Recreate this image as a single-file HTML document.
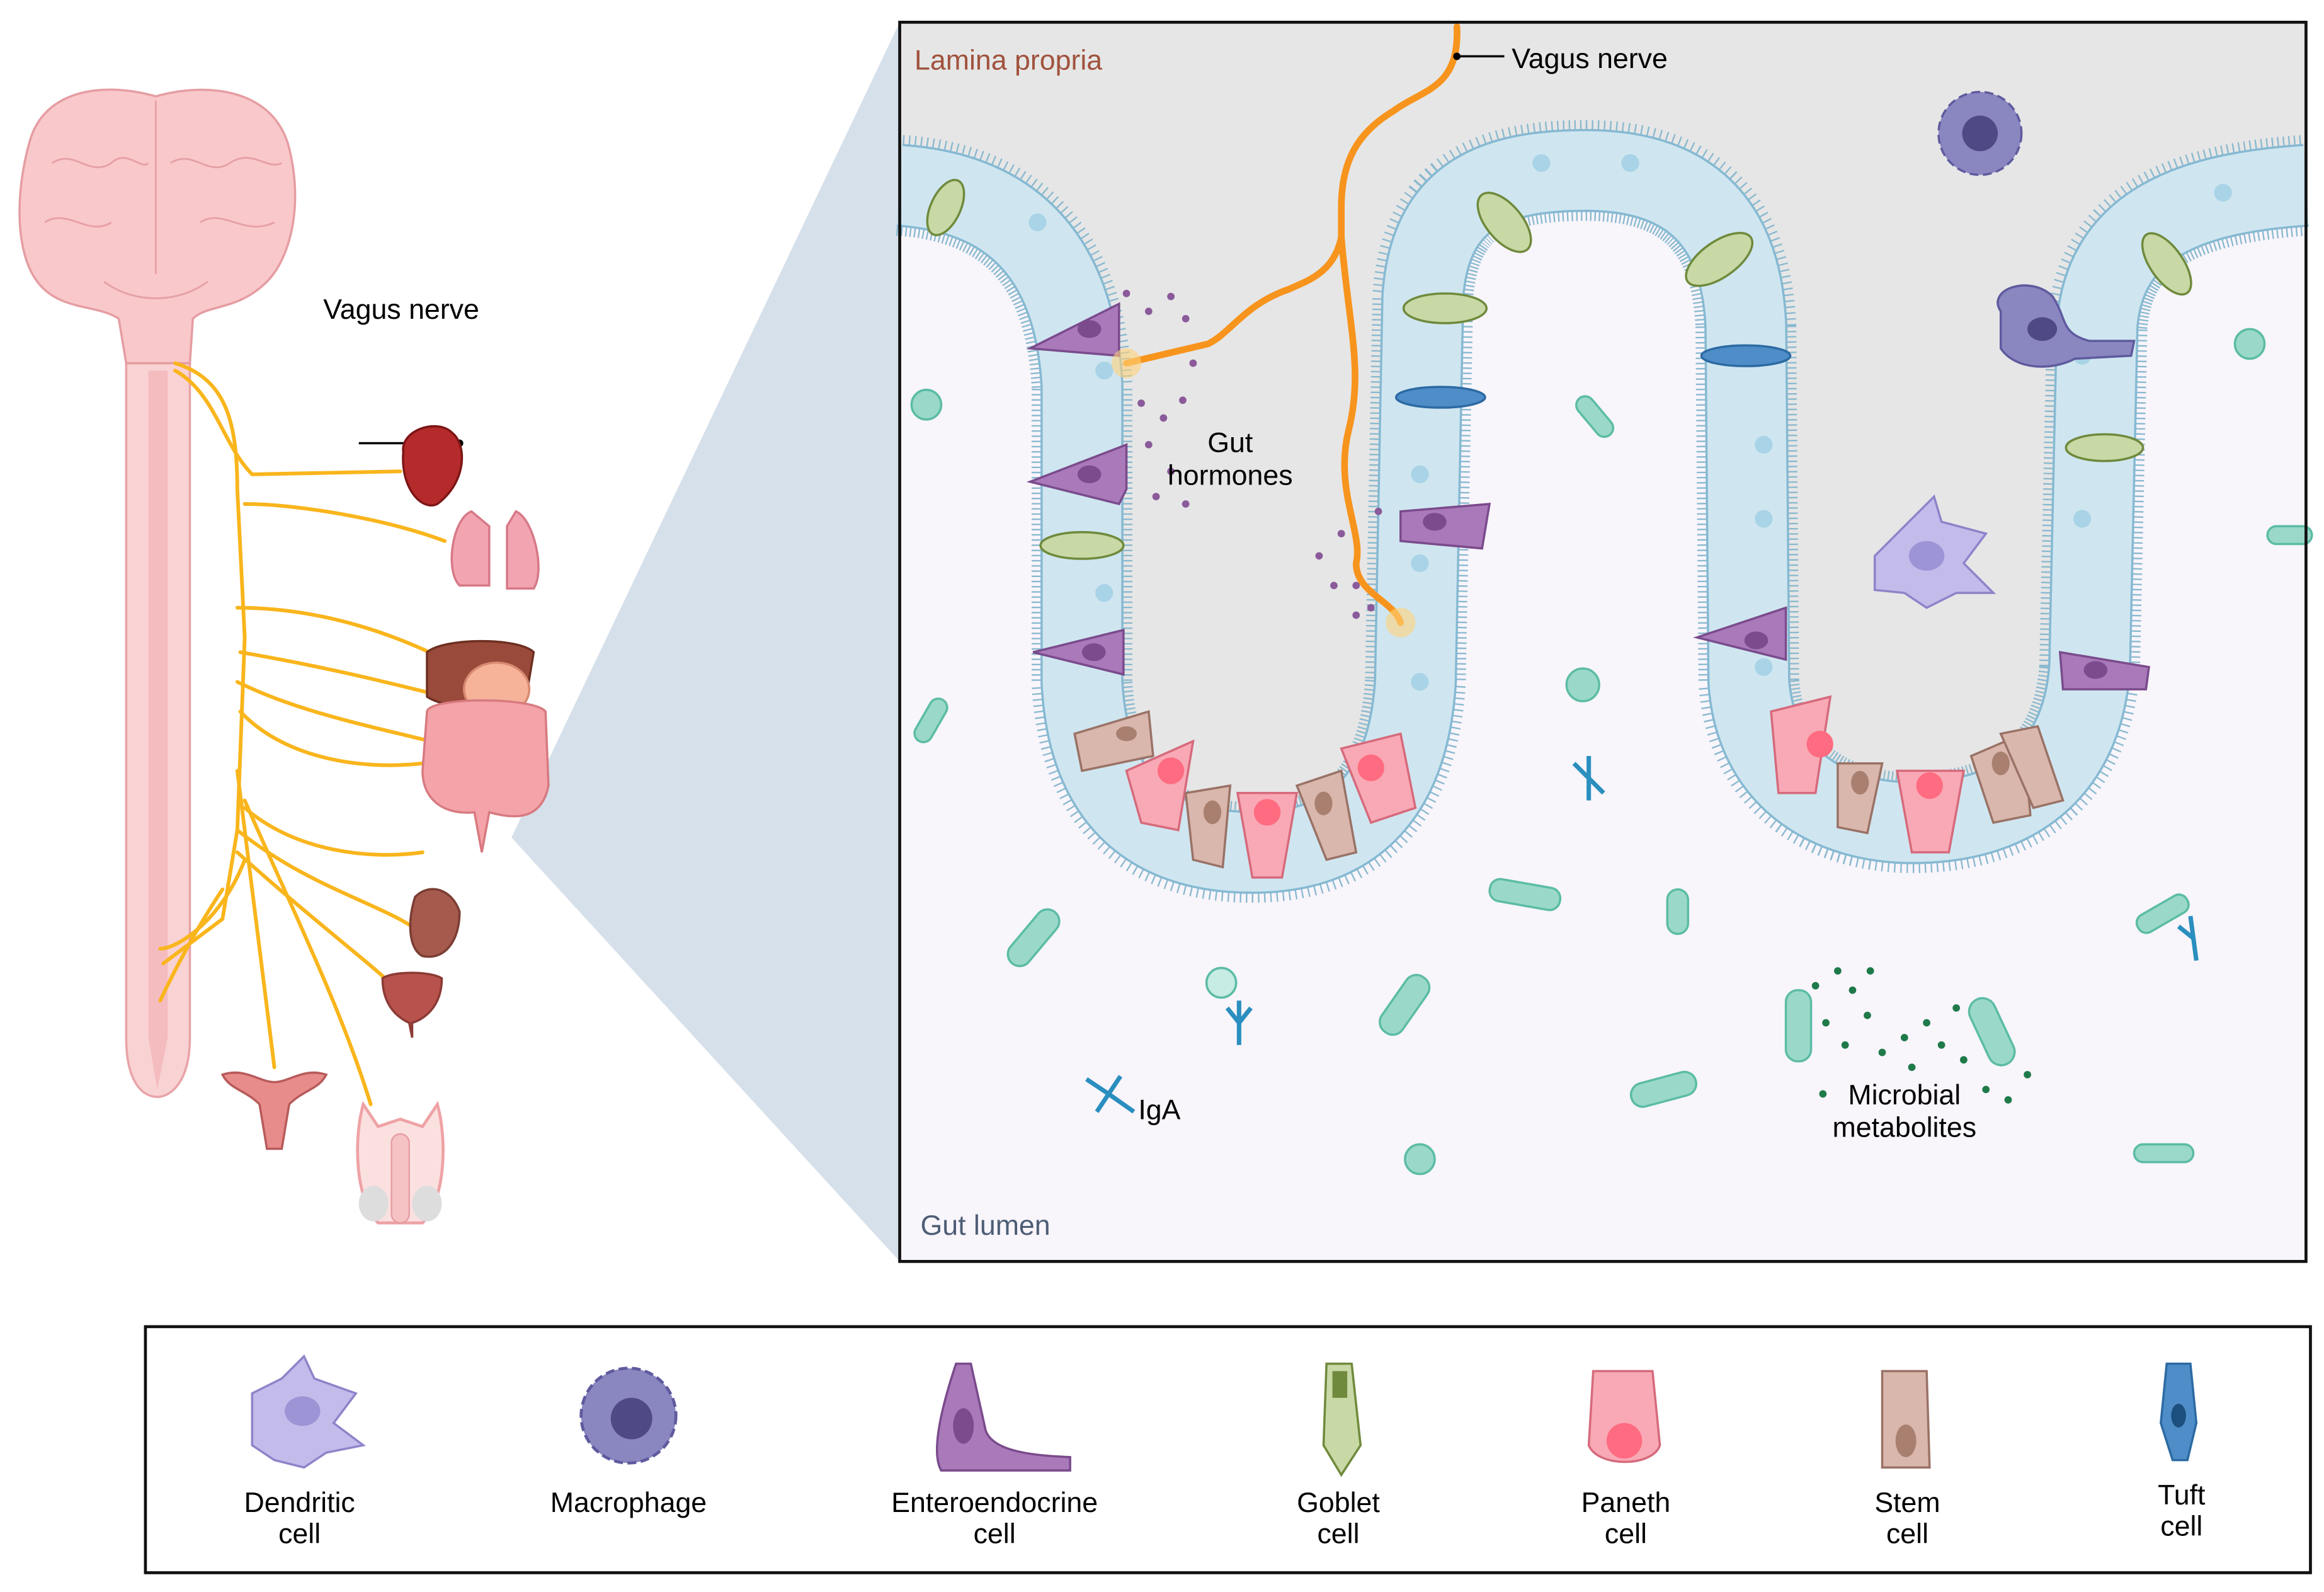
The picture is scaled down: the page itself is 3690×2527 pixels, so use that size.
<!DOCTYPE html>
<html><head><meta charset="utf-8"><style>
html,body{margin:0;padding:0;background:#fff;}
svg{display:block;}
text{font-family:"Liberation Sans",sans-serif;}
</style></head><body>
<svg width="3690" height="2527" viewBox="0 0 1568 1074" xmlns="http://www.w3.org/2000/svg">
<defs>
<path id="ep" d="M607,125 C680,130 725,170 730,260 L730,460 C735,560 800,575 845,575 C910,575 950,540 955,460 L960,200 C965,130 1010,115 1070,115 C1140,115 1175,150 1178,220 L1180,460 C1185,530 1240,555 1290,555 C1360,555 1405,520 1410,450 L1415,220 C1420,150 1480,130 1556,125"/>
</defs>
<rect width="1568" height="1074" fill="#fff"/>
<polygon points="345,565 607,15 607,851" fill="#d6e0ea"/>
<rect x="607" y="15" width="949" height="836" fill="#f8f5fb"/>
<path d="M607,125 C680,130 725,170 730,260 L730,460 C735,560 800,575 845,575 C910,575 950,540 955,460 L960,200 C965,130 1010,115 1070,115 C1140,115 1175,150 1178,220 L1180,460 C1185,530 1240,555 1290,555 C1360,555 1405,520 1410,450 L1415,220 C1420,150 1480,130 1556,125 L1556,15 L607,15 Z" fill="#e6e6e6"/>
<g fill="none" stroke-linejoin="round">
<use href="#ep" stroke="#8ab9cf" stroke-width="68" stroke-dasharray="1,2.5"/>
<use href="#ep" stroke="#86b9d2" stroke-width="56"/>
<use href="#ep" stroke="#cfe6f0" stroke-width="53"/>
</g>
<g fill="#a9d3e6">
<circle cx="700" cy="150" r="6"/><circle cx="745" cy="250" r="6"/><circle cx="745" cy="320" r="6"/><circle cx="745" cy="400" r="6"/><circle cx="958" cy="320" r="6"/><circle cx="958" cy="380" r="6"/><circle cx="958" cy="460" r="6"/><circle cx="1040" cy="110" r="6"/><circle cx="1100" cy="110" r="6"/><circle cx="1190" cy="300" r="6"/><circle cx="1190" cy="350" r="6"/><circle cx="1190" cy="450" r="6"/><circle cx="1405" cy="240" r="6"/><circle cx="1405" cy="350" r="6"/><circle cx="1500" cy="130" r="6"/>
</g>
<g fill="#c8d9a6" stroke="#6f8a3c" stroke-width="1.5">
<ellipse cx="638" cy="140" rx="10" ry="20" transform="rotate(25 638 140)"/>
<ellipse cx="730" cy="368" rx="28" ry="9"/>
<ellipse cx="975" cy="208" rx="28" ry="10"/>
<ellipse cx="1015" cy="150" rx="12" ry="24" transform="rotate(-40 1015 150)"/>
<ellipse cx="1160" cy="175" rx="12" ry="26" transform="rotate(55 1160 175)"/>
<ellipse cx="1420" cy="302" rx="26" ry="9"/>
<ellipse cx="1462" cy="178" rx="11" ry="24" transform="rotate(-35 1462 178)"/>
</g>
<g fill="#a979b9" stroke="#7a4b8c" stroke-width="1.5">
<path d="M695,235 L755,205 L755,240 Z"/><path d="M695,325 L760,300 L760,330 L755,340 Z"/><path d="M697,440 L758,425 L758,455 Z"/>
<path d="M945,345 L1005,340 L1000,370 L945,365 Z"/><path d="M1145,430 L1205,410 L1205,445 Z"/><path d="M1390,440 L1450,450 L1448,465 L1392,465 Z"/>
</g>
<g fill="#7c4b8e"><ellipse cx="735" cy="222" rx="8" ry="6"/><ellipse cx="735" cy="320" rx="8" ry="6"/><ellipse cx="738" cy="440" rx="8" ry="6"/><ellipse cx="968" cy="352" rx="8" ry="6"/><ellipse cx="1185" cy="432" rx="8" ry="6"/><ellipse cx="1414" cy="452" rx="8" ry="6"/></g>
<g fill="#4f8dc8" stroke="#2c6aa3" stroke-width="1.5"><ellipse cx="972" cy="268" rx="30" ry="7"/><ellipse cx="1178" cy="240" rx="30" ry="7"/></g>
<g stroke-width="1.5">
<path d="M725,495 L775,480 L778,510 L730,520 Z" fill="#d9b7ad" stroke="#9a7266"/>
<path d="M760,520 L805,500 L795,560 L770,555 Z" fill="#f8a9b5" stroke="#d66a7c"/>
<path d="M800,535 L830,530 L825,585 L805,580 Z" fill="#d9b7ad" stroke="#9a7266"/>
<path d="M835,535 L875,535 L865,592 L845,592 Z" fill="#f8a9b5" stroke="#d66a7c"/>
<path d="M875,530 L905,520 L915,575 L895,580 Z" fill="#d9b7ad" stroke="#9a7266"/>
<path d="M905,505 L945,495 L955,545 L925,555 Z" fill="#f8a9b5" stroke="#d66a7c"/>
<path d="M1195,480 L1235,470 L1225,535 L1200,535 Z" fill="#f8a9b5" stroke="#d66a7c"/>
<path d="M1240,515 L1270,515 L1260,562 L1240,558 Z" fill="#d9b7ad" stroke="#9a7266"/>
<path d="M1280,520 L1325,520 L1315,575 L1290,575 Z" fill="#f8a9b5" stroke="#d66a7c"/>
<path d="M1330,510 L1365,495 L1370,550 L1345,555 Z" fill="#d9b7ad" stroke="#9a7266"/>
<path d="M1350,495 L1375,490 L1392,540 L1372,545 Z" fill="#d9b7ad" stroke="#9a7266"/>
</g>
<g fill="#ff6b80"><circle cx="790" cy="520" r="9"/><circle cx="855" cy="548" r="9"/><circle cx="925" cy="518" r="9"/><circle cx="1228" cy="502" r="9"/><circle cx="1302" cy="530" r="9"/></g>
<g fill="#a9806f"><ellipse cx="760" cy="495" rx="7" ry="5"/><ellipse cx="818" cy="548" rx="6" ry="8"/><ellipse cx="893" cy="542" rx="6" ry="8"/><ellipse cx="1255" cy="528" rx="6" ry="8"/><ellipse cx="1350" cy="515" rx="6" ry="8"/></g>
<g stroke-width="1.5">
<circle cx="1336" cy="90" r="28" fill="#8a86c0" stroke="#5f5a9e" stroke-dasharray="6,3"/><circle cx="1336" cy="90" r="12" fill="#4f4a85"/>
<path d="M1350,210 C1340,195 1370,185 1385,200 C1395,215 1390,225 1410,230 L1440,230 L1438,240 L1400,242 C1385,250 1360,250 1350,235 Z" fill="#8a86c0" stroke="#5f5a9e"/><ellipse cx="1378" cy="222" rx="10" ry="8" fill="#4f4a85"/>
<path d="M1265,375 L1290,350 L1305,335 L1310,352 L1340,360 L1325,380 L1345,400 L1320,400 L1300,410 L1285,400 L1265,398 Z" fill="#c3bceb" stroke="#8d84c9"/><ellipse cx="1300" cy="375" rx="12" ry="10" fill="#9d94d6"/>
</g>
<g fill="none" stroke="#f7941d" stroke-width="4.5" stroke-linecap="round">
<path d="M983,18 C985,60 960,60 940,75 C915,90 905,110 905,140 L905,160 C900,185 880,190 870,195 C840,205 830,225 815,232 L760,245"/>
<path d="M905,160 C910,220 920,250 910,290 C900,330 920,360 915,380 C915,400 940,405 945,420"/>
</g>
<circle cx="760" cy="245" r="10" fill="#ffd27a" opacity="0.6"/><circle cx="945" cy="420" r="10" fill="#ffd27a" opacity="0.6"/>
<g fill="#8a5a9a">
<circle cx="760" cy="198" r="2.5"/><circle cx="775" cy="210" r="2.5"/><circle cx="790" cy="200" r="2.5"/><circle cx="800" cy="215" r="2.5"/><circle cx="770" cy="272" r="2.5"/><circle cx="785" cy="282" r="2.5"/><circle cx="798" cy="270" r="2.5"/><circle cx="775" cy="300" r="2.5"/><circle cx="790" cy="318" r="2.5"/><circle cx="780" cy="335" r="2.5"/><circle cx="800" cy="340" r="2.5"/><circle cx="805" cy="245" r="2.5"/>
<circle cx="890" cy="375" r="2.5"/><circle cx="905" cy="360" r="2.5"/><circle cx="915" cy="395" r="2.5"/><circle cx="925" cy="410" r="2.5"/><circle cx="900" cy="395" r="2.5"/><circle cx="930" cy="345" r="2.5"/><circle cx="915" cy="415" r="2.5"/>
</g>
<g fill="#9ad9c9" stroke="#5cbca5" stroke-width="1.5">
<circle cx="625" cy="273" r="10"/><circle cx="1068" cy="462" r="11"/><circle cx="1518" cy="232" r="10"/><circle cx="958" cy="782" r="10"/><circle cx="824" cy="663" r="10" fill="#c6ece3"/>
<rect x="1060" y="275" width="32" height="12" rx="6" transform="rotate(50 1076 281)"/>
<rect x="612" y="480" width="32" height="12" rx="6" transform="rotate(-60 628 486)"/>
<rect x="1005" y="596" width="48" height="15" rx="7" transform="rotate(10 1029 603)"/>
<rect x="1125" y="600" width="14" height="30" rx="7"/>
<rect x="675" y="625" width="45" height="16" rx="8" transform="rotate(-50 697 633)"/>
<rect x="925" y="670" width="45" height="17" rx="8" transform="rotate(-55 947 678)"/>
<rect x="1100" y="727" width="45" height="16" rx="8" transform="rotate(-15 1122 735)"/>
<rect x="1205" y="668" width="17" height="48" rx="8"/>
<rect x="1335" y="672" width="18" height="48" rx="9" transform="rotate(-25 1344 696)"/>
<rect x="1440" y="610" width="38" height="13" rx="6" transform="rotate(-30 1459 616)"/>
<rect x="1440" y="772" width="40" height="12" rx="6"/>
<rect x="1530" y="355" width="30" height="12" rx="6"/>
</g>
<g stroke="#2a8fbf" stroke-width="3" fill="none">
<path d="M733,728 L748,738 L765,750 M748,738 L740,750 M748,738 L756,726"/>
<path d="M836,675 L836,705 M836,690 L828,680 M836,690 L844,680"/>
<path d="M1072,510 L1072,540 M1072,525 L1062,515 M1072,525 L1082,535"/>
<path d="M1478,618 L1482,648 M1480,633 L1470,625"/>
</g>
<g fill="#1f7a4a">
<circle cx="1225" cy="665" r="2.5"/><circle cx="1240" cy="655" r="2.5"/><circle cx="1250" cy="668" r="2.5"/><circle cx="1232" cy="690" r="2.5"/><circle cx="1260" cy="685" r="2.5"/><circle cx="1245" cy="705" r="2.5"/><circle cx="1270" cy="710" r="2.5"/><circle cx="1230" cy="738" r="2.5"/><circle cx="1290" cy="720" r="2.5"/><circle cx="1310" cy="705" r="2.5"/><circle cx="1325" cy="715" r="2.5"/><circle cx="1300" cy="690" r="2.5"/><circle cx="1320" cy="680" r="2.5"/><circle cx="1340" cy="735" r="2.5"/><circle cx="1355" cy="742" r="2.5"/><circle cx="1368" cy="725" r="2.5"/><circle cx="1262" cy="655" r="2.5"/><circle cx="1285" cy="700" r="2.5"/>
</g>
<rect x="607" y="15" width="949" height="836" fill="none" stroke="#111" stroke-width="2"/>
<text x="617" y="47" font-size="19" fill="#a0523d">Lamina propria</text>
<line x1="983" y1="38" x2="1015" y2="38" stroke="#000" stroke-width="1.5"/><circle cx="983" cy="38" r="2.5"/>
<text x="1020" y="46" font-size="19">Vagus nerve</text>
<text x="830" y="305" font-size="19" text-anchor="middle">Gut</text>
<text x="830" y="327" font-size="19" text-anchor="middle">hormones</text>
<text x="768" y="755" font-size="19">IgA</text>
<text x="1285" y="745" font-size="19" text-anchor="middle">Microbial</text>
<text x="1285" y="767" font-size="19" text-anchor="middle">metabolites</text>
<text x="621" y="833" font-size="19" fill="#4d5d75">Gut lumen</text>
<path d="M85,245 L128,245 L128,700 C128,730 115,740 106,740 C96,740 85,730 85,700 Z" fill="#f9d2d3" stroke="#e8a3a7" stroke-width="1.5"/>
<path d="M100,250 L113,250 L113,700 L106,735 L100,700 Z" fill="#f4bcbf"/>
<path d="M20,95 C30,60 70,55 105,65 C140,55 185,60 195,100 C205,140 195,175 180,190 C160,210 140,205 130,215 L128,245 L85,245 L80,215 C65,205 40,210 25,190 C10,170 10,130 20,95 Z" fill="#f9c8ca" stroke="#e59da2" stroke-width="1.5"/>
<g fill="none" stroke="#e6a0a5" stroke-width="1.2">
<path d="M105,68 L105,185"/><path d="M35,110 C50,100 60,120 75,110 C85,100 95,115 100,110"/><path d="M115,110 C130,100 140,120 155,110 C170,100 180,115 190,110"/><path d="M30,150 C45,140 60,160 75,150"/><path d="M135,150 C150,140 165,160 185,150"/><path d="M70,190 C90,205 120,205 140,190"/>
</g>
<g fill="none" stroke="#f9b51c" stroke-width="2.5" stroke-linecap="round">
<path d="M118,245 C150,255 160,280 160,330 L165,430 L160,560 L150,620 L110,650"/>
<path d="M118,250 C145,265 150,300 170,320 L270,318"/>
<path d="M165,340 C200,340 260,350 300,365"/>
<path d="M160,410 C220,410 270,430 300,445"/>
<path d="M162,440 C220,450 260,460 300,470"/>
<path d="M160,460 C200,480 250,490 290,500"/>
<path d="M162,480 C190,510 240,520 285,515"/>
<path d="M165,545 C200,575 250,580 285,575"/>
<path d="M160,560 C210,600 260,610 285,630"/>
<path d="M160,575 C210,620 250,650 265,665"/>
<path d="M160,520 C170,600 180,680 185,720"/>
<path d="M165,540 C200,620 230,680 250,745"/>
<path d="M150,600 C130,630 115,660 108,675"/>
<path d="M165,580 C150,620 120,640 108,640"/>
</g>
<line x1="242" y1="299" x2="310" y2="299" stroke="#000" stroke-width="1.5"/><circle cx="310" cy="299" r="2.5"/>
<path d="M272,305 C270,290 295,282 305,292 C315,300 315,325 295,340 C285,345 270,330 272,305 Z" fill="#b52a2a" stroke="#7d1616" stroke-width="1.5"/>
<path d="M318,345 C305,350 300,385 310,395 L330,395 L330,355 Z M348,345 C360,350 368,385 360,397 L342,397 L342,355 Z" fill="#f2a5b0" stroke="#d77887" stroke-width="1.5"/>
<path d="M288,440 C300,430 350,430 360,440 L355,470 C330,480 300,478 288,470 Z" fill="#9a4a3a" stroke="#6e2f22" stroke-width="1.5"/>
<ellipse cx="335" cy="465" rx="22" ry="18" fill="#f6b39a" stroke="#d88a70" stroke-width="1.5"/>
<path d="M288,480 C290,470 360,470 368,480 L370,530 C365,555 345,552 330,548 L325,575 L320,548 C300,550 285,540 285,520 Z" fill="#f4a3a8" stroke="#d77a80" stroke-width="1.5"/>
<path d="M280,605 C290,595 305,600 310,615 C310,635 300,648 285,645 C275,640 275,620 280,605 Z" fill="#a65a4e" stroke="#7b3d33" stroke-width="1.5"/>
<path d="M258,660 C265,655 290,655 298,660 C298,680 285,688 278,690 L278,700 L276,690 C265,685 258,675 258,660 Z" fill="#b8524c" stroke="#8c3a35" stroke-width="1.5"/>
<path d="M150,725 C165,720 175,730 185,730 C195,730 205,720 220,725 C215,735 205,735 195,745 L190,775 L180,775 L175,745 C165,735 155,735 150,725 Z" fill="#e88b8b" stroke="#b85a5a" stroke-width="1.5"/>
<path d="M245,745 C238,770 240,810 255,825 L285,825 C300,810 302,770 295,745 L285,760 L270,755 L255,760 Z" fill="#fbe0e0" stroke="#eea2a5" stroke-width="2"/>
<ellipse cx="252" cy="812" rx="10" ry="12" fill="#ddd"/><ellipse cx="288" cy="812" rx="10" ry="12" fill="#ddd"/>
<rect x="264" y="765" width="12" height="60" rx="6" fill="#f6c3c5" stroke="#e59ca0"/>
<text x="218" y="215" font-size="19">Vagus nerve</text>
<rect x="98" y="895" width="1461" height="166" fill="#fff" stroke="#111" stroke-width="2"/>
<path d="M170,940 L190,930 L205,915 L212,930 L240,940 L225,960 L245,975 L220,980 L205,990 L185,985 L170,975 Z" fill="#c3bceb" stroke="#8d84c9" stroke-width="1.5"/><ellipse cx="204" cy="952" rx="12" ry="10" fill="#9d94d6"/>
<circle cx="424" cy="955" r="32" fill="#8a86c0" stroke="#5f5a9e" stroke-width="2" stroke-dasharray="6,3"/><circle cx="426" cy="957" r="14" fill="#4f4a85"/>
<path d="M645,920 L655,920 L665,965 C670,980 700,982 722,983 L722,992 L635,992 C628,980 635,950 645,920 Z" fill="#a979b9" stroke="#7a4b8c" stroke-width="1.5"/><ellipse cx="650" cy="962" rx="7" ry="12" fill="#7c4b8e"/>
<path d="M895,920 L912,920 L918,975 L905,995 L893,975 Z" fill="#c8d9a6" stroke="#6f8a3c" stroke-width="1.5"/><rect x="899" y="925" width="10" height="18" fill="#6f8a3c"/>
<path d="M1075,925 L1115,925 L1120,975 C1115,990 1078,990 1072,975 Z" fill="#f8a9b5" stroke="#d66a7c" stroke-width="1.5"/><circle cx="1096" cy="972" r="12" fill="#ff6b80"/>
<path d="M1270,925 L1300,925 L1302,990 L1270,990 Z" fill="#d9b7ad" stroke="#9a7266" stroke-width="1.5"/><ellipse cx="1286" cy="972" rx="7" ry="11" fill="#a9806f"/>
<path d="M1462,920 L1478,920 L1482,960 L1476,985 L1466,985 L1458,960 Z" fill="#4f8dc8" stroke="#2c6aa3" stroke-width="1.5"/><ellipse cx="1470" cy="955" rx="5" ry="8" fill="#1d4f7e"/>
<g font-size="19" text-anchor="middle">
<text x="202" y="1020">Dendritic</text><text x="202" y="1041">cell</text>
<text x="424" y="1020">Macrophage</text>
<text x="671" y="1020">Enteroendocrine</text><text x="671" y="1041">cell</text>
<text x="903" y="1020">Goblet</text><text x="903" y="1041">cell</text>
<text x="1097" y="1020">Paneth</text><text x="1097" y="1041">cell</text>
<text x="1287" y="1020">Stem</text><text x="1287" y="1041">cell</text>
<text x="1472" y="1015">Tuft</text><text x="1472" y="1036">cell</text>
</g>
</svg>
</body></html>
